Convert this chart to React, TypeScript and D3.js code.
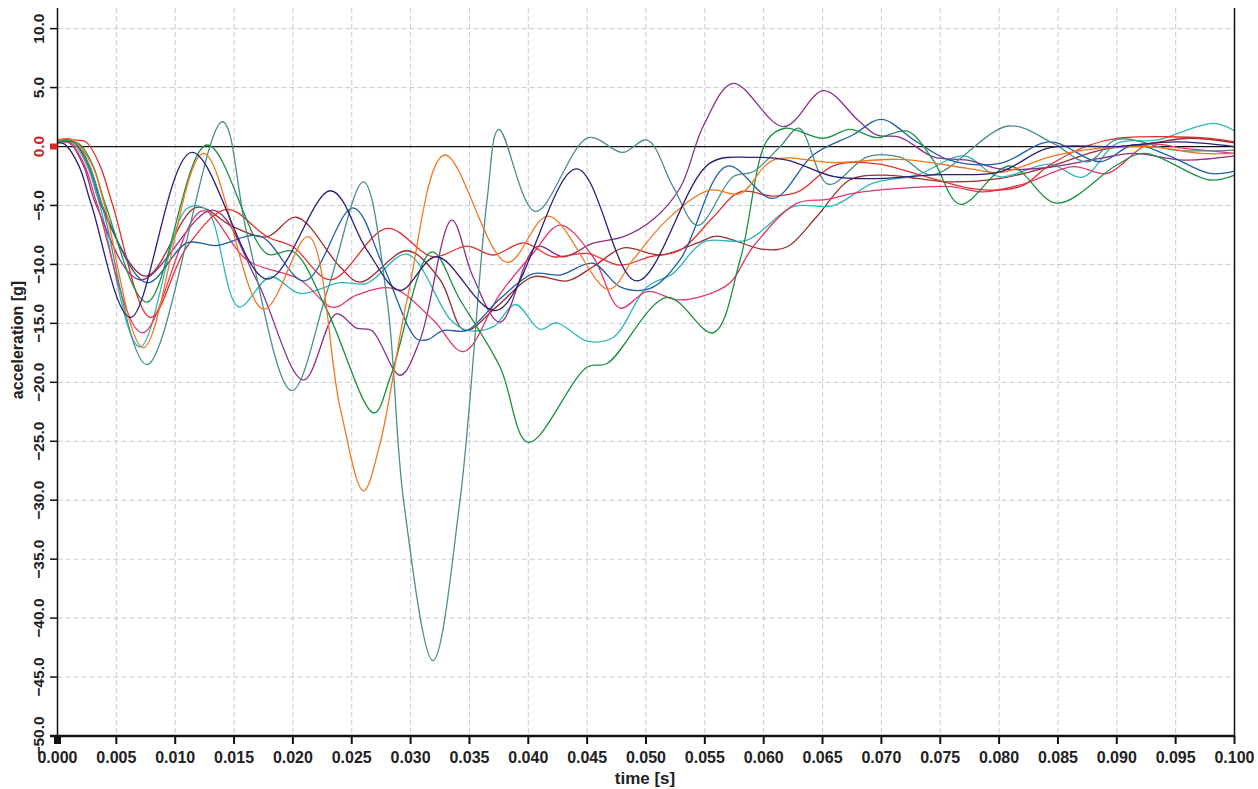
import React, { useEffect, useRef } from 'react';
import * as d3 from 'd3';

// time in ms, acceleration in g
const navy: [number, number][] = [[0, 0.3], [0.6, 0.2], [1.8, -1.6], [2.9, -5], [6.2, -14.5], [11.4, -0.5], [17.8, -11.25], [23.2, -3.75], [26.3, -8.8], [29.1, -12.2], [32.2, -9.35], [37.3, -13.9], [44.1, -1.9], [49.2, -11.4], [55.4, -1.43], [59.1, -0.92], [62, -1.15], [66, -2.56], [70.2, -2.7], [74.4, -2.4], [80.1, -2.14], [84.1, -0.15], [90, 0], [95.1, 0.4], [100, 0]];
const orange: [number, number][] = [[0, 0.5], [1.1, 0.65], [2.9, -1.5], [4, -5], [7.3, -17.05], [12.4, -0.58], [17.5, -13.8], [21.3, -7.65], [24, -22.1], [26, -29.2], [27.4, -25.2], [29.7, -13], [32.9, -0.72], [38.2, -9.83], [41.7, -5.9], [46.8, -12.1], [48.9, -9.6], [51.8, -6.2], [55.4, -3.7], [58, -4], [60.8, -1.15], [65.9, -1.37], [71.6, -1.09], [77.3, -1.85], [80.1, -2.2], [84.3, -0.87], [87.2, -0.3], [92.8, 0], [97.1, -0.58], [100, -0.58]];
const green: [number, number][] = [[0, 0.4], [1.8, 0.25], [3, -1.6], [4.1, -5], [7.6, -13.2], [12.7, 0.13], [17.8, -9.1], [20, -8.9], [22.9, -13.9], [26.9, -22.6], [28.3, -19.5], [31.8, -8.93], [34.2, -13], [37.6, -18.7], [40, -25.1], [45, -18.7], [46.7, -18.4], [51.8, -12.8], [55.7, -15.8], [58, -9.6], [60.3, 0.55], [61.8, 1.55], [65.1, 0.7], [67.3, 1.46], [69.6, 0.75], [72.2, 1.3], [74.4, -1.15], [76.7, -4.9], [80.9, -1.65], [84.9, -4.8], [90, -1.57], [92.3, -0.58], [97.9, -2.84], [100, -2.42]];
const teal: [number, number][] = [[0, 0.5], [1.5, 0.35], [2.7, -1.6], [3.8, -5], [7.6, -18.5], [14, 2.1], [16.1, -7.4], [19.9, -20.7], [23, -12], [26, -3], [28, -13], [29.4, -30], [31.9, -43.6], [34.2, -30], [36.5, -4.5], [37.5, 1.46], [40.6, -5.5], [45.1, 0.75], [48, -0.5], [50.1, 0.55], [52.3, -3.4], [54.4, -6.7], [57.4, -2.56], [59.1, -2.14], [61.4, 0], [63, 1.55], [65.5, -3.2], [68.8, -0.87], [71.6, -0.9], [74.3, -2.4], [80.8, 1.74], [84.6, 0.27], [87.5, -1.3], [90, 0.6], [95, -0.3], [100, -0.3]];
const blue: [number, number][] = [[0, 0.5], [1.5, 0.35], [2.7, -1.6], [3.8, -5], [7.6, -11.55], [11, -8.17], [13.5, -8.4], [17.2, -7.6], [21, -11.4], [25.1, -5.2], [27.7, -10.2], [30.5, -16.3], [31.4, -16.4], [32.8, -15.6], [34.8, -15.6], [37.5, -13], [40.4, -10.8], [42.7, -10.9], [45.5, -9.9], [47.8, -11.9], [50.3, -12.05], [52.9, -9.6], [56.9, -1.66], [60.8, -4.4], [64.2, -0.72], [67.6, 1.0], [70, 2.3], [73, 0.4], [75.8, -1.15], [80.1, -1.43], [84.3, 0.4], [88.6, -1.29], [91.4, 0.13], [94.3, -0.72], [97.9, -2.28], [100, -2.08]];
const red: [number, number][] = [[0, 0.6], [1.2, 0.55], [2.4, 0.4], [3.6, -1.6], [4.7, -5], [7.9, -14.5], [11, -8.5], [14.4, -5.33], [17.8, -7.65], [20, -8.5], [23.2, -11.3], [28, -6.95], [31.9, -9.35], [34.8, -8.45], [37, -9.2], [39.6, -8.17], [42.1, -9.35], [45, -9.07], [47.8, -10.06], [50.3, -9.35], [52.9, -8.8], [55.7, -6], [58, -3.84], [60.8, -4.2], [63, -3.8], [66, -1.6], [69.5, -1.45], [73.3, -2.42], [77.3, -3.5], [80.1, -3.69], [82.1, -3.27], [84.3, -1.57], [87.7, 0.13], [90, 0.7], [94.3, 0.83], [97.9, 0.7], [100, 0.4]];
const crimson: [number, number][] = [[0, 0.4], [1.1, 0.25], [2.3, -1.6], [3.4, -5], [7.2, -15.8], [12.3, -5.45], [16.1, -9.63], [20.6, -11.3], [23.4, -13.65], [25.4, -12.6], [28.5, -12.04], [31.9, -14.7], [34.5, -17.4], [37.6, -12.5], [40.4, -9.07], [42.7, -6.66], [45.5, -9.35], [47.8, -13.7], [50.1, -12.3], [52.6, -13.0], [54.6, -12.75], [57.1, -11.6], [59.1, -8.5], [62.8, -4.82], [65.4, -4.48], [67.6, -3.97], [71.6, -3.55], [75.8, -3.4], [78.7, -3.84], [82, -3.2], [86.3, -1.7], [89.2, -2.28], [92.6, 0.13], [95.7, -0.15], [100, -0.58]];
const purple: [number, number][] = [[0, 0.5], [1, 0.35], [2.2, -1.6], [3.3, -5], [7, -11.3], [13.2, -5.4], [16.9, -11.3], [20.9, -19.8], [23.7, -14.2], [25.4, -15.4], [26.7, -15.6], [29.1, -19.4], [30.8, -16.4], [33.5, -6.24], [35.3, -11.05], [37.6, -14.9], [40.7, -8.5], [43, -9.35], [45.5, -8.2], [48.1, -7.65], [50.6, -6.2], [52.9, -3.5], [54.9, 1.8], [57.4, 5.36], [61.7, 1.68], [65.1, 4.74], [68, 2.25], [69.6, 0.98], [71.6, 0.78], [74.4, -0.87], [77.3, -1.15], [80.1, -1.9], [84, -1.8], [88.6, -1.0], [91.4, -0.58], [95.7, -1.15], [100, -0.8]];
const cyan: [number, number][] = [[0, 0.4], [1.3, 0.25], [2.5, -1.6], [3.6, -5], [7, -17], [11, -5.25], [12.7, -5.4], [15.4, -13.6], [18.1, -11.05], [20.6, -12.46], [24, -11.55], [26.3, -11.6], [29.7, -9.13], [33.4, -14.7], [34.8, -15.6], [37, -15.3], [38.9, -13.4], [41, -15.5], [42.4, -14.95], [45, -16.5], [47.2, -16.2], [50.1, -11.9], [52.3, -10.76], [54.9, -8.08], [58.6, -7.94], [62.5, -5.1], [65.9, -5.02], [69.3, -3.1], [73, -2.42], [77, -0.8], [80, -2.56], [84.3, -1.49], [87.1, -2.6], [90, 0.27], [93.4, 0.55], [98.2, 1.97], [100, 1.34]];
const brown: [number, number][] = [[0, 0.5], [1.4, 0.35], [2.6, -1.6], [3.7, -5], [7.5, -11], [11.8, -5.16], [14.9, -6.8], [17.8, -7.65], [20.3, -6.0], [24, -10.2], [25.7, -11.5], [29.7, -8.84], [32.5, -11.3], [34.6, -15.6], [37.3, -13.6], [40.4, -11.05], [43.3, -11.4], [45.5, -10.2], [48.1, -8.6], [51.2, -9.2], [54.6, -8.08], [56, -7.6], [60, -8.73], [62, -8.5], [64.5, -5.96], [67.3, -2.84], [70.2, -2.42], [73, -2.7], [75.8, -3.0], [80.1, -2.7], [84.3, -1.7], [88.6, -0.3], [92.8, 0.27], [96.2, 0.7], [100, 0.32]];

const allSeries = [brown, cyan, purple, crimson, red, blue, teal, green, orange, navy];
const colors = ['#9a2d2d', '#2fb7b7', '#8c2c8c', '#e5356a', '#e4302b', '#1e5fa5', '#4a8d8d', '#1a9040', '#f07820', '#2c1f78'];

const xTicks = d3.range(0, 0.1001, 0.005);
const yTicks = d3.range(-50, 10.01, 5);

const App = () => {
    const ref = useRef<SVGSVGElement | null>(null);

    useEffect(() => {
        const svg = d3.select(ref.current);
        svg.selectAll('*').remove();

        const left = 57.5, right = 1234.5, top = 8, bottom = 736;
        const x = d3.scaleLinear().domain([0, 0.1]).range([left, right]);
        const y = d3.scaleLinear().domain([-50, 11.75]).range([bottom, top]);
        const font = '"Liberation Sans", Arial, sans-serif';

        // grid
        svg.append('g').selectAll('line')
            .data(xTicks.filter(t => t > 0.0001 && t < 0.0999))
            .enter().append('line')
            .attr('x1', d => x(d)).attr('x2', d => x(d))
            .attr('y1', top).attr('y2', bottom)
            .attr('stroke', '#c9c9d2').attr('stroke-dasharray', '5,3');
        svg.append('g').selectAll('line')
            .data(yTicks.filter(t => t !== 0 && t !== -50))
            .enter().append('line')
            .attr('x1', left).attr('x2', right)
            .attr('y1', d => y(d)).attr('y2', d => y(d))
            .attr('stroke', '#c9c9d2').attr('stroke-dasharray', '5,3');

        // zero line
        svg.append('line')
            .attr('x1', left).attr('x2', right)
            .attr('y1', y(0)).attr('y2', y(0))
            .attr('stroke', '#111').attr('stroke-width', 1.2);

        // curves
        const line = d3.line<[number, number]>()
            .x(d => x(d[0] / 1000))
            .y(d => y(d[1]))
            .curve(d3.curveCatmullRom.alpha(0.5));
        allSeries.forEach((s, i) => {
            svg.append('path')
                .attr('d', line(s))
                .attr('fill', 'none')
                .attr('stroke', colors[i])
                .attr('stroke-width', 1.3);
        });

        // axes frame
        svg.append('line').attr('x1', left).attr('x2', left).attr('y1', top).attr('y2', bottom)
            .attr('stroke', '#111').attr('stroke-width', 1.5);
        svg.append('line').attr('x1', right).attr('x2', right).attr('y1', top).attr('y2', bottom)
            .attr('stroke', '#111').attr('stroke-width', 1.5);
        svg.append('line').attr('x1', 50).attr('x2', right + 0.75).attr('y1', bottom).attr('y2', bottom)
            .attr('stroke', '#111').attr('stroke-width', 2.5);

        // y ticks and labels
        svg.append('g').selectAll('line')
            .data(yTicks.filter(t => t !== 0))
            .enter().append('line')
            .attr('x1', 50).attr('x2', left)
            .attr('y1', d => y(d)).attr('y2', d => y(d))
            .attr('stroke', '#111').attr('stroke-width', 1.5);
        svg.append('rect')
            .attr('x', 50).attr('y', y(0) - 3).attr('width', 7.5).attr('height', 6)
            .attr('fill', '#d62a22');
        svg.append('g').selectAll('text')
            .data(yTicks)
            .enter().append('text')
            .attr('transform', d => `translate(43.5,${y(d)}) rotate(-90)`)
            .attr('text-anchor', 'middle')
            .attr('font-family', font).attr('font-weight', 'bold').attr('font-size', 15.5)
            .attr('fill', d => d === 0 ? '#cc2420' : '#222')
            .text(d => d3.format('.1f')(d));

        // x ticks and labels
        svg.append('g').selectAll('line')
            .data(xTicks)
            .enter().append('line')
            .attr('x1', d => x(d)).attr('x2', d => x(d))
            .attr('y1', bottom).attr('y2', bottom + 8)
            .attr('stroke', '#111').attr('stroke-width', d => d === 0 ? 7 : 2);
        svg.append('g').selectAll('text')
            .data(xTicks)
            .enter().append('text')
            .attr('x', d => x(d)).attr('y', 763)
            .attr('text-anchor', 'middle')
            .attr('font-family', font).attr('font-weight', 'bold').attr('font-size', 16)
            .attr('fill', '#222')
            .text(d => d3.format('.3f')(d));

        // axis titles
        svg.append('text')
            .attr('x', 645).attr('y', 784)
            .attr('text-anchor', 'middle')
            .attr('font-family', font).attr('font-weight', 'bold').attr('font-size', 17)
            .attr('fill', '#222')
            .text('time [s]');
        svg.append('text')
            .attr('transform', 'translate(23,340) rotate(-90)')
            .attr('text-anchor', 'middle')
            .attr('font-family', font).attr('font-weight', 'bold').attr('font-size', 16)
            .attr('fill', '#222')
            .text('acceleration [g]');
    }, []);

    return (
        <svg ref={ref} width={1258} height={789}
            style={{ position: 'absolute', left: 0, top: 0, background: '#fff' }} />
    );
};

export default App;
